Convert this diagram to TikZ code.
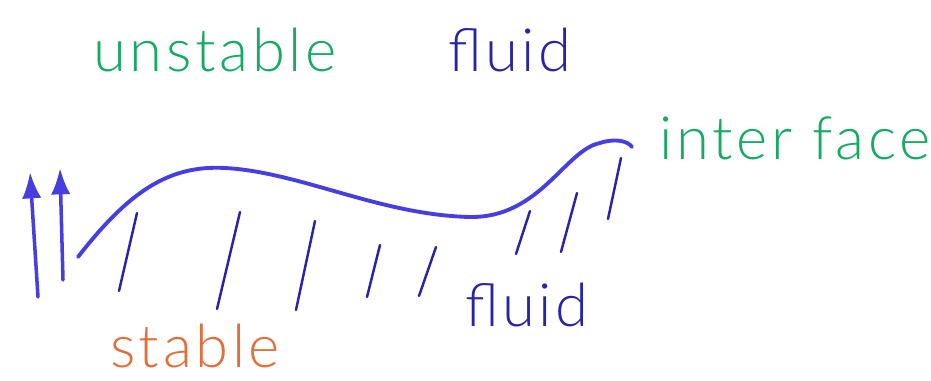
\documentclass[tikz,border=0pt]{standalone}
\usepackage{fontspec}
\newfontfamily\hand[LetterSpace=6]{Lato Light}
\usetikzlibrary{arrows.meta}
\definecolor{penblue}{RGB}{70,62,225}
\definecolor{inkblue}{RGB}{40,36,170}
\definecolor{pengreen}{RGB}{22,170,100}
\definecolor{penorange}{RGB}{226,110,58}
\begin{document}
\begin{tikzpicture}[>={Latex[length=15pt,width=11pt]}, x=0.02cm, y=-0.02cm,
	word/.style={font=\hand\fontsize{34}{40}\selectfont, inner sep=0pt},
	hatch/.style={inkblue, line width=1.4pt, line cap=round},
	flow/.style={->, penblue, line width=2pt, line cap=round}]
	\useasboundingbox (0,0) rectangle (931,381);
	\node[word, pengreen] (unstable) at (215,50) {unstable};
	\node[word, inkblue] (fluidtop) at (510,50) {fluid};
	\node[word, pengreen] (interface) at (795,138) {inter face};
	\node[word, inkblue] (fluidbot) at (527,305) {fluid};
	\node[word, penorange] (stable) at (195,346) {stable};
	\coordinate (a1) at (38,297);
	\coordinate (b1) at (30,172);
	\coordinate (a2) at (63,280);
	\coordinate (b2) at (60,168);
	\draw[flow] (a1) -- (b1);
	\draw[flow] (a2) -- (b2);
	\draw[penblue, line width=2.2pt, line cap=round] (78,257) .. controls (130,190) and (170,165) .. (225,168)
		.. controls (300,172) and (380,215) .. (470,217)
		.. controls (540,218) and (565,150) .. (600,143)
		.. controls (615,138) and (628,141) .. (632,147);
	\draw[hatch] (137,213) -- (119,291);
	\draw[hatch] (240,212) -- (217,309);
	\draw[hatch] (315,221) -- (296,310);
	\draw[hatch] (380,245) -- (367,297);
	\draw[hatch] (436,247) -- (419,296);
	\draw[hatch] (530,211) -- (516,254);
	\draw[hatch] (577,193) -- (561,252);
	\draw[hatch] (621,158) -- (608,219);
\end{tikzpicture}
\end{document}
